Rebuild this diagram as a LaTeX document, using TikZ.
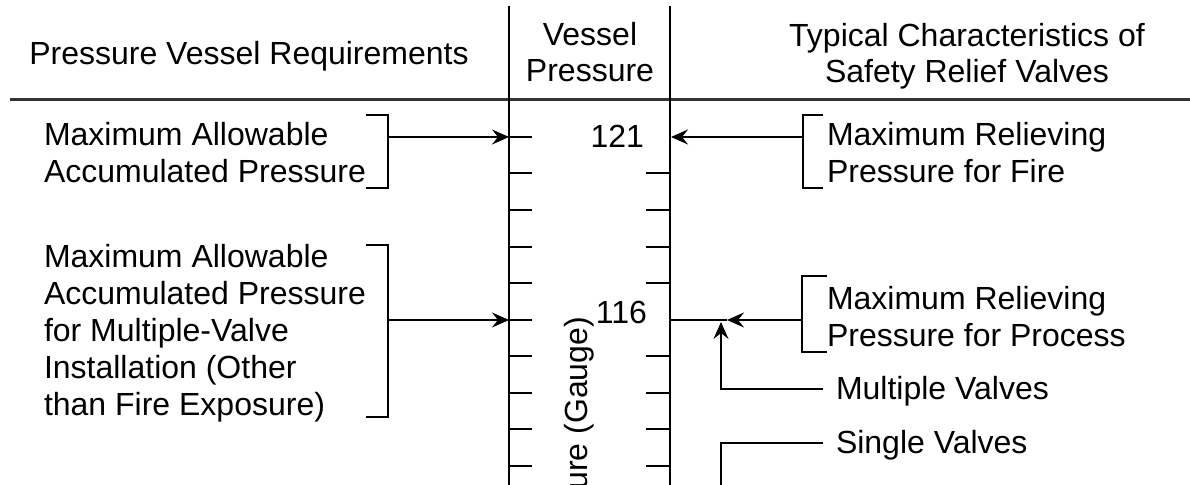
\documentclass[tikz,border=0pt]{standalone}
\usepackage{fontspec}
\setmainfont{Liberation Sans}
\usetikzlibrary{arrows.meta}
\begin{document}
\begin{tikzpicture}[x=0.5pt,y=-0.5pt,line width=1pt,
  txt/.style={inner sep=0pt,font=\fontsize{16}{18.6}\selectfont,align=left},
  ctxt/.style={inner sep=0pt,font=\fontsize{16}{18}\selectfont,align=center},
  arr/.style={-{Stealth[length=8.5pt,width=7.5pt,inset=3pt]}},
  rule/.style={line width=1.5pt,black!80},
  tick/.style={line width=1pt}]
\useasboundingbox (0,0) rectangle (1190,485);
\clip (0,0) rectangle (1190,485);
% headers
\node[ctxt,anchor=base] (h1) at (249,65) {Pressure Vessel Requirements};
\node[ctxt,anchor=north] (h2) at (590,21) {Vessel\\Pressure};
\node[ctxt,anchor=north] (h3) at (967,22) {Typical Characteristics of\\Safety Relief Valves};
\draw[rule] (10,100) -- (1190,100);
% axes
\coordinate (lt) at (509,6); \coordinate (lb) at (509,490);
\coordinate (rt) at (670,6); \coordinate (rb) at (670,490);
\draw (lt) -- (lb);
\draw (rt) -- (rb);
\foreach \y in {137,173.5,210,247,283.5,320,356.5,393,429.5,466}
  \draw[tick] (509,\y) -- (532,\y);
\foreach \y in {173.5,210,247,283.5,356.5,393,429.5,466}
  \draw[tick] (646,\y) -- (670,\y);
\node[txt,anchor=base east] (n121) at (645,148) {121};
\node[txt,anchor=base east] (n116) at (648,324) {116};
\node[txt,anchor=base east,rotate=90] (gauge) at (587,316) {ure (Gauge)};
% left blocks
\node[txt,anchor=north west] (L1) at (43,121) {Maximum Allowable\\Accumulated Pressure};
\node[txt,anchor=north west] (L2) at (43,243) {Maximum Allowable\\Accumulated Pressure\\for Multiple-Valve\\Installation (Other\\than Fire Exposure)};
\draw (366,115) -- (388,115) -- (388,188) -- (366,188);
\draw (366,245) -- (388,245) -- (388,417) -- (366,417);
\coordinate (bl1) at (388,137); \coordinate (al1) at (509,137);
\coordinate (bl2) at (388,320); \coordinate (al2) at (509,320);
\draw[arr] (bl1) -- (al1);
\draw[arr] (bl2) -- (al2);
% right blocks
\node[txt,anchor=north west] (R1) at (826,121) {Maximum Relieving\\Pressure for Fire};
\node[txt,anchor=north west] (R2) at (826,285) {Maximum Relieving\\Pressure for Process};
\draw (823,115) -- (803,115) -- (803,188) -- (823,188);
\draw (827,276) -- (802,276) -- (802,352) -- (827,352);
\coordinate (br1) at (803,137); \coordinate (ar1) at (671,137);
\draw[arr] (br1) -- (ar1);
\coordinate (br2) at (802,320); \coordinate (mid) at (727,320); \coordinate (ar2) at (670,320);
\draw[arr] (br2) -- (mid);
\draw (mid) -- (ar2);
\node[txt,anchor=base west] (mv) at (835,400) {Multiple Valves};
\node[txt,anchor=base west] (sv) at (835,454) {Single Valves};
\coordinate (mv1) at (823,389); \coordinate (mv2) at (721,389); \coordinate (mv3) at (721,322);
\draw[arr] (mv1) -- (mv2) -- (mv3);
\coordinate (sv1) at (823,443); \coordinate (sv2) at (721,443); \coordinate (sv3) at (721,490);
\draw (sv1) -- (sv2) -- (sv3);
\end{tikzpicture}
\end{document}
